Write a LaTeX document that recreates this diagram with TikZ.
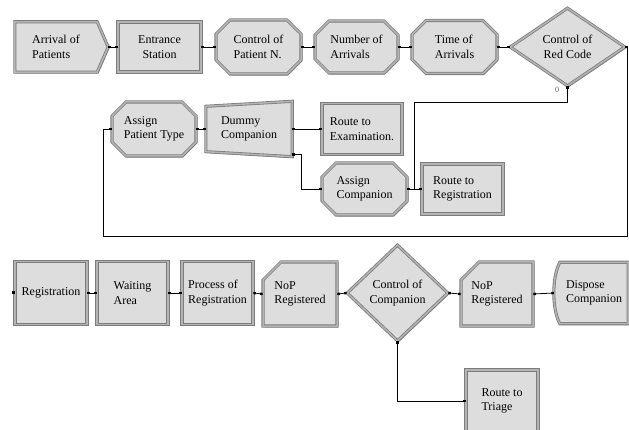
\documentclass[tikz,border=0pt]{standalone}
\usepackage{fontspec}
\setmainfont{Liberation Serif}
\usetikzlibrary{shapes.geometric,shapes.misc,arrows.meta,backgrounds,calc,shadows}
\definecolor{modfill}{HTML}{DDDDDD}
\definecolor{modedge}{HTML}{7C7C7C}
\definecolor{modlight}{HTML}{B4B4B4}
\definecolor{modshadow}{HTML}{6E6E6E}
\begin{document}
\begin{tikzpicture}[x=1pt,y=-1pt,
 every node/.style={font=\fontsize{12}{14.5}\selectfont},
 skin/.style={fill=modfill,draw=modedge,double=modlight,double distance=1.5pt,line width=0.8pt,
   drop shadow={shadow xshift=1.3pt,shadow yshift=-1.3pt,fill=modshadow,opacity=0.8}},
 modbox/.style={skin,rectangle,inner sep=0pt,align=center},
 modoct/.style={skin,chamfered rectangle,chamfered rectangle xsep=7pt,chamfered rectangle ysep=7pt,inner sep=0pt,align=left},
 modrec/.style={skin,chamfered rectangle,chamfered rectangle corners=north west,chamfered rectangle xsep=9pt,chamfered rectangle ysep=9pt,inner sep=0pt,align=left},
 moddec/.style={skin,diamond,inner sep=0pt,align=center},
 plainlbl/.style={rectangle,inner sep=0pt,align=left},
 conn/.style={draw=black,line width=0.8pt,{Square[length=2.4pt,width=2.4pt]}-{Square[length=2.4pt,width=2.4pt]}},
]
\useasboundingbox (0,0) rectangle (629,430);
% top row
\node[plainlbl,minimum width=82pt,minimum height=50pt] (ap) at (56,47) {Arrival of\\Patients};
\node[modbox,minimum width=83pt,minimum height=50pt] (es) at (159.5,47) {Entrance\\Station};
\node[modoct,minimum width=85pt,minimum height=54pt] (cp) at (258.5,47) {Control of\\Patient N.};
\node[modoct,minimum width=83pt,minimum height=52pt] (na) at (356.5,47) {Number of\\Arrivals};
\node[modoct,minimum width=85pt,minimum height=53pt] (ta) at (454.5,47) {Time of\\Arrivals};
\node[moddec,aspect=1.5,minimum width=115pt,minimum height=78pt] (rc) at (567.5,47) {Control of\\Red Code};
\node[font=\fontsize{8}{9}\selectfont,text=gray!70!black] (zero) at (557,90) {0};
% second row
\node[modoct,minimum width=84pt,minimum height=54pt] (apt) at (154,129) {Assign\\Patient Type};
\node[plainlbl,minimum width=86pt,minimum height=55pt] (dc) at (249,129) {Dummy\\Companion};
\node[modbox,align=left,minimum width=80pt,minimum height=51pt] (re) at (362,129) {Route to\\Examination.};
\node[modoct,minimum width=85pt,minimum height=52pt] (ac) at (364.5,189) {Assign\\Companion};
\node[modbox,align=left,minimum width=81pt,minimum height=50pt] (rr) at (462.5,189) {Route to\\Registration};
% third row
\node[modbox,minimum width=72pt,minimum height=63pt] (reg) at (51,293) {Registration};
\node[modbox,align=left,minimum width=71pt,minimum height=63pt] (wa) at (132.5,293) {Waiting\\Area};
\node[modbox,align=left,minimum width=71pt,minimum height=63pt] (pr) at (217.5,293) {Process of\\Registration};
\node[modrec,minimum width=74pt,minimum height=64pt] (n1) at (300,294) {NoP\\Registered};
\node[moddec,aspect=1,minimum width=101pt,minimum height=96pt] (cc) at (397.5,293) {Control of\\Companion};
\node[modrec,minimum width=72pt,minimum height=64pt] (n2) at (497,294) {NoP\\Registered};
\node[plainlbl,minimum width=68pt,minimum height=61pt] (dp) at (594,293) {Dispose\\Companion};
\node[modbox,align=left,minimum width=72pt,minimum height=62pt] (rt) at (502,401) {Route to\\Triage};
% helper coordinates
\coordinate (aptip) at ($(ap.east)+(11,0)$);
\coordinate (dpin) at ($(dp.west)+(-6,0)$);
\coordinate (dcout) at ($(dc.south east)+(0,-2)$);
\coordinate (loopc) at (103,236);
% custom shapes
\begin{scope}[on background layer]
\draw[skin] (ap.north west) -- (ap.north east) -- (aptip) -- (ap.south east) -- (ap.south west) -- cycle;
\draw[skin] ($(dc.north west)+(0,5)$) -- (dc.north east) -- (dc.south east) -- ($(dc.south west)+(0,-5)$) -- cycle;
\draw[skin] (dp.north west) -- (dp.north east) -- (dp.south east) -- (dp.south west) .. controls +(-8,-15) and +(-8,15) .. (dp.north west) -- cycle;
\end{scope}
% connectors
\draw[conn] (aptip) -- (es.west);
\draw[conn] (es.east) -- (cp.west);
\draw[conn] (cp.east) -- (na.west);
\draw[conn] (na.east) -- (ta.west);
\draw[conn] (ta.east) -- (rc.west);
\draw[conn] (rc.east) -- ++(2,0) |- (loopc) |- (apt.west);
\draw[conn] (rc.south) -- ++(0,16) -| ($(rr.west)+(-7,0)$) -- (rr.west);
\draw[conn] (apt.east) -- (dc.west);
\draw[conn] (dc.east) -- (re.west);
\draw[conn] (dcout) -- ++(9,0) |- (ac.west);
\draw[conn] (ac.east) -- (rr.west);
\fill ($(reg.west)+(-3,-1.5)$) rectangle ++(3,3);
\draw[conn] (reg.east) -- (wa.west);
\draw[conn] (wa.east) -- (pr.west);
\draw[conn] (pr.east) -- (n1.west);
\draw[conn] (n1.east) -- (cc.west);
\draw[conn] (cc.east) -- (n2.west);
\draw[conn] (n2.east) -- (dpin);
\draw[conn] (cc.south) |- (rt.west);
\end{tikzpicture}
\end{document}
